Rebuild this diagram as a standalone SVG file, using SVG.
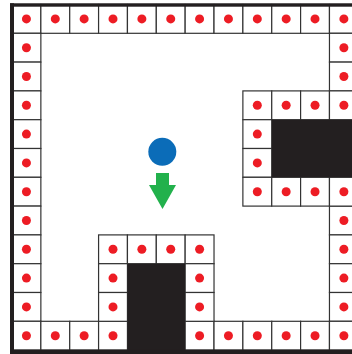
<svg xmlns="http://www.w3.org/2000/svg" xmlns:xlink="http://www.w3.org/1999/xlink" width="352" height="354" viewBox="0 0 352 354">
  <style>
    .cell { fill: #ffffff; stroke: #333333; stroke-width: 1.2; }
    .dot { fill: #ed1c24; }
    .solid { fill: #231f20; }
    .frame { fill: #231f20; }
    .player { fill: #0b6cb8; }
    .arrow { fill: #22b14c; }
  </style>
  <defs>
    <g id="cell">
      <rect class="cell" x="0" y="0" width="28.86" height="28.8"/>
      <circle class="dot" cx="14.43" cy="14.4" r="4.5"/>
    </g>
  </defs>
  <rect x="0" y="0" width="352" height="354" fill="#ffffff"/>

  <g id="wall-top">
    <use xlink:href="#cell" x="12" y="4.5"/>
    <use xlink:href="#cell" x="40.86" y="4.5"/>
    <use xlink:href="#cell" x="69.72" y="4.5"/>
    <use xlink:href="#cell" x="98.58" y="4.5"/>
    <use xlink:href="#cell" x="127.44" y="4.5"/>
    <use xlink:href="#cell" x="156.3" y="4.5"/>
    <use xlink:href="#cell" x="185.16" y="4.5"/>
    <use xlink:href="#cell" x="214.02" y="4.5"/>
    <use xlink:href="#cell" x="242.88" y="4.5"/>
    <use xlink:href="#cell" x="271.74" y="4.5"/>
    <use xlink:href="#cell" x="300.6" y="4.5"/>
    <use xlink:href="#cell" x="329.46" y="4.5"/>
  </g>

  <g id="wall-left">
    <use xlink:href="#cell" x="12" y="33.3"/>
    <use xlink:href="#cell" x="12" y="62.1"/>
    <use xlink:href="#cell" x="12" y="90.9"/>
    <use xlink:href="#cell" x="12" y="119.7"/>
    <use xlink:href="#cell" x="12" y="148.5"/>
    <use xlink:href="#cell" x="12" y="177.3"/>
    <use xlink:href="#cell" x="12" y="206.1"/>
    <use xlink:href="#cell" x="12" y="234.9"/>
    <use xlink:href="#cell" x="12" y="263.7"/>
    <use xlink:href="#cell" x="12" y="292.5"/>
    <use xlink:href="#cell" x="12" y="321.3"/>
  </g>

  <g id="wall-right">
    <use xlink:href="#cell" x="329.46" y="33.3"/>
    <use xlink:href="#cell" x="329.46" y="62.1"/>
    <use xlink:href="#cell" x="329.46" y="206.1"/>
    <use xlink:href="#cell" x="329.46" y="234.9"/>
    <use xlink:href="#cell" x="329.46" y="263.7"/>
    <use xlink:href="#cell" x="329.46" y="292.5"/>
  </g>

  <g id="wall-bottom">
    <use xlink:href="#cell" x="40.86" y="321.3"/>
    <use xlink:href="#cell" x="69.72" y="321.3"/>
    <use xlink:href="#cell" x="98.58" y="321.3"/>
    <use xlink:href="#cell" x="185.16" y="321.3"/>
    <use xlink:href="#cell" x="214.02" y="321.3"/>
    <use xlink:href="#cell" x="242.88" y="321.3"/>
    <use xlink:href="#cell" x="271.74" y="321.3"/>
    <use xlink:href="#cell" x="300.6" y="321.3"/>
    <use xlink:href="#cell" x="329.46" y="321.3"/>
  </g>

  <g id="block-bottom">
    <use xlink:href="#cell" x="98.58" y="234.9"/>
    <use xlink:href="#cell" x="127.44" y="234.9"/>
    <use xlink:href="#cell" x="156.3" y="234.9"/>
    <use xlink:href="#cell" x="185.16" y="234.9"/>
    <use xlink:href="#cell" x="98.58" y="263.7"/>
    <use xlink:href="#cell" x="98.58" y="292.5"/>
    <use xlink:href="#cell" x="185.16" y="263.7"/>
    <use xlink:href="#cell" x="185.16" y="292.5"/>
    <rect class="solid" x="127.44" y="263.7" width="57.72" height="88"/>
  </g>

  <g id="block-right">
    <use xlink:href="#cell" x="242.88" y="90.9"/>
    <use xlink:href="#cell" x="271.74" y="90.9"/>
    <use xlink:href="#cell" x="300.6" y="90.9"/>
    <use xlink:href="#cell" x="329.46" y="90.9"/>
    <use xlink:href="#cell" x="242.88" y="119.7"/>
    <use xlink:href="#cell" x="242.88" y="148.5"/>
    <use xlink:href="#cell" x="242.88" y="177.3"/>
    <use xlink:href="#cell" x="271.74" y="177.3"/>
    <use xlink:href="#cell" x="300.6" y="177.3"/>
    <use xlink:href="#cell" x="329.46" y="177.3"/>
    <rect class="solid" x="271.74" y="119.7" width="81" height="57.6"/>
  </g>

  <g id="frame">
    <rect class="frame" x="10" y="3.3" width="342" height="3.4"/>
    <rect class="frame" x="10" y="3.3" width="4" height="350.7"/>
    <rect class="frame" x="10" y="349.6" width="342" height="4.4"/>
  </g>

  <g id="player">
    <circle class="player" cx="162.3" cy="151.8" r="14"/>
  </g>

  <g id="direction-arrow">
    <polygon class="arrow" points="156,173 169,173 169,185 176,185 162.5,209 149,185 156,185"/>
  </g>
</svg>
